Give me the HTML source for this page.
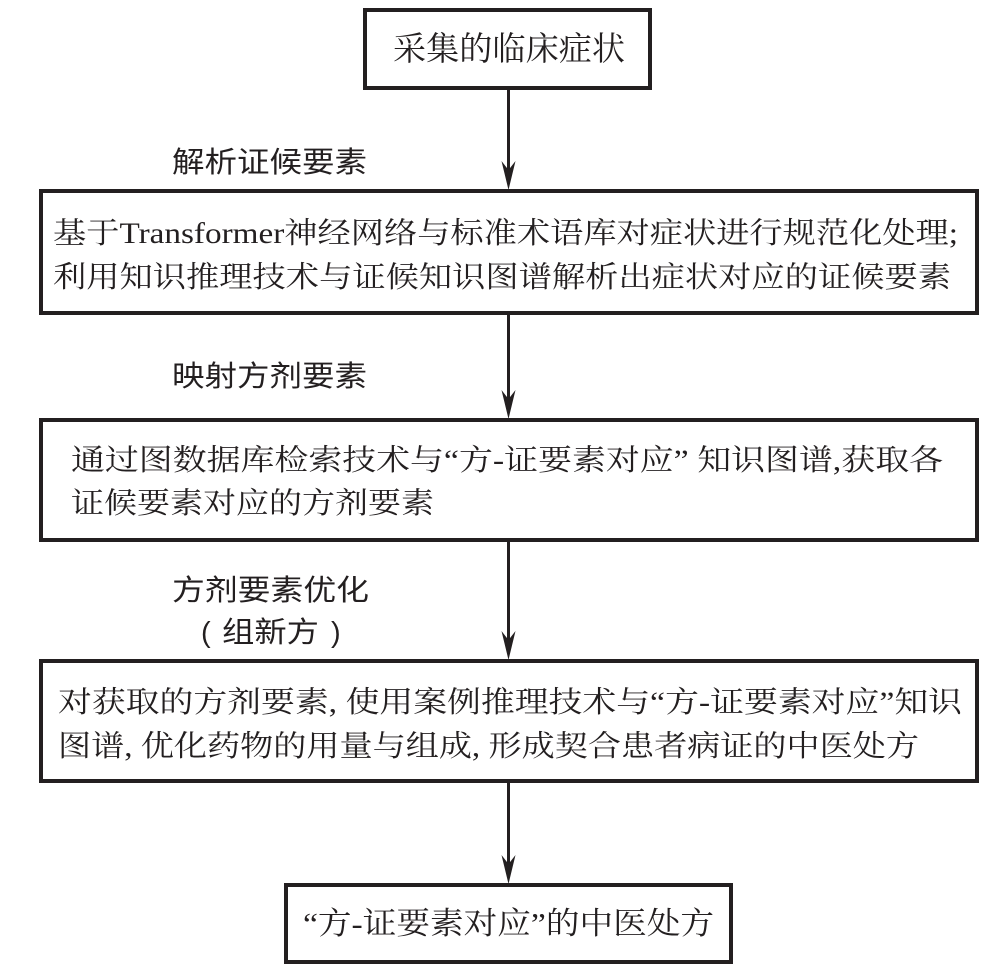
<!DOCTYPE html>
<html><head><meta charset="utf-8">
<style>
html,body{margin:0;padding:0;background:#fff;}
svg{display:block;}
text{font-family:"Liberation Serif","Noto Serif CJK SC",serif;font-size:29.5px;fill:#231f20;}
.h{font-family:"Liberation Sans","Noto Sans CJK SC",sans-serif;font-size:29px;}
rect{fill:none;stroke:#231f20;stroke-width:4;}
line{stroke:#231f20;stroke-width:3;}
path{fill:#231f20;}
</style></head><body>
<svg width="999" height="972" viewBox="0 0 999 972" xmlns="http://www.w3.org/2000/svg">
<rect x="365" y="10" width="285" height="78"/>
<rect x="41" y="191" width="936" height="122"/>
<rect x="41" y="420" width="936" height="120"/>
<rect x="41" y="661" width="936" height="120"/>
<rect x="286" y="885" width="445" height="77"/>
<line x1="508.5" y1="88" x2="508.5" y2="172"/><path d="M508.5 190 L501.5 161 L508.5 170 L515.5 161 Z"/>
<line x1="508.5" y1="313" x2="508.5" y2="400"/><path d="M508.5 419 L501.5 390 L508.5 399 L515.5 390 Z"/>
<line x1="508.5" y1="540" x2="508.5" y2="642"/><path d="M508.5 660 L501.5 631 L508.5 640 L515.5 631 Z"/>
<line x1="508.5" y1="781" x2="508.5" y2="866"/><path d="M508.5 884 L501.5 855 L508.5 864 L515.5 855 Z"/>
<text x="393" y="60" textLength="232" lengthAdjust="spacingAndGlyphs" style="font-size:33px">采集的临床症状</text>
<text class="h" x="172" y="172" textLength="195" lengthAdjust="spacingAndGlyphs">解析证候要素</text>
<text x="53" y="243" textLength="905" lengthAdjust="spacingAndGlyphs">基于Transformer神经网络与标准术语库对症状进行规范化处理;</text>
<text x="53" y="287" textLength="898" lengthAdjust="spacingAndGlyphs">利用知识推理技术与证候知识图谱解析出症状对应的证候要素</text>
<text class="h" x="172" y="386" textLength="195" lengthAdjust="spacingAndGlyphs">映射方剂要素</text>
<text x="71" y="470" textLength="872" lengthAdjust="spacingAndGlyphs">通过图数据库检索技术与“方-证要素对应” 知识图谱,获取各</text>
<text x="71" y="513" textLength="363" lengthAdjust="spacingAndGlyphs">证候要素对应的方剂要素</text>
<text class="h" x="172" y="600" textLength="197" lengthAdjust="spacingAndGlyphs">方剂要素优化</text>
<text class="h" x="201" y="642">(</text>
<text class="h" x="222" y="642" textLength="97" lengthAdjust="spacingAndGlyphs">组新方</text>
<text class="h" x="331" y="642">)</text>
<text x="58" y="712" textLength="904" lengthAdjust="spacingAndGlyphs">对获取的方剂要素, 使用案例推理技术与“方-证要素对应”知识</text>
<text x="58" y="756" textLength="861" lengthAdjust="spacingAndGlyphs">图谱, 优化药物的用量与组成, 形成契合患者病证的中医处方</text>
<text x="303" y="934" textLength="411" lengthAdjust="spacingAndGlyphs" style="font-size:31px">“方-证要素对应”的中医处方</text>
</svg>
</body></html>
